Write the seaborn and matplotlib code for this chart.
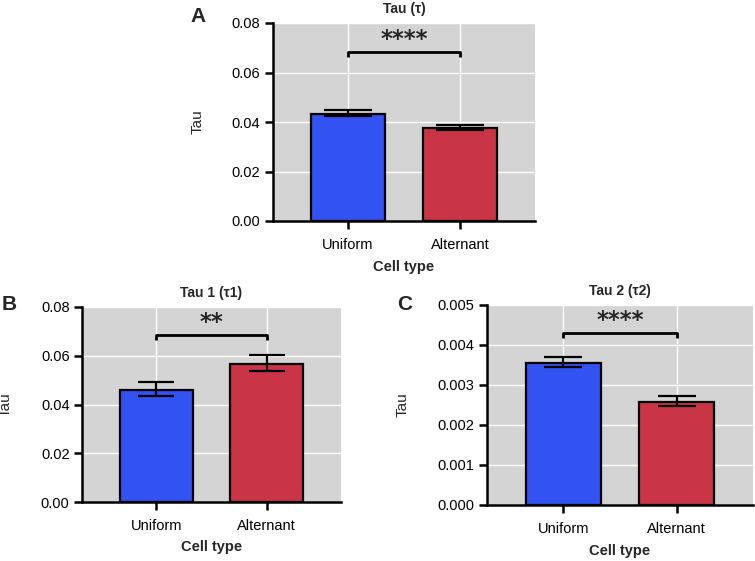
import seaborn as sns
import matplotlib
matplotlib.use("Agg")
import matplotlib.pyplot as plt
import pandas as pd

sns.set_theme(style="darkgrid")
plt.rcParams['font.family'] = ['Liberation Sans', 'DejaVu Sans']

# Data
cell_types = ['Uniform', 'Alternant']

tau_mean = [0.0433, 0.0375]
tau_low = [0.0424, 0.0369]
tau_high = [0.0447, 0.0386]

tau1_mean = [0.0460, 0.0566]
tau1_low = [0.0433, 0.0537]
tau1_high = [0.0493, 0.0604]

tau2_mean = [0.00355, 0.00258]
tau2_low = [0.00345, 0.00248]
tau2_high = [0.00370, 0.00272]

colors = ['#3352f2', '#c93546']

W, H = 755, 561
fig = plt.figure(figsize=(W / 100, H / 100), dpi=100)


def px_axes(x0, x1, y0, y1):
    return fig.add_axes([x0 / W, 1 - y1 / H, (x1 - x0) / W, (y1 - y0) / H])


def panel(ax, means, low, high, ymax, step, fmt, title, stars, bar_y, capsize,
          ylab_x, letter, letter_xy):
    df = pd.DataFrame({'Cell type': cell_types, 'Tau': means})
    sns.barplot(data=df, x='Cell type', y='Tau', hue='Cell type', palette=colors,
                saturation=1, width=0.66, edgecolor='black', linewidth=1.6,
                legend=False, ax=ax)
    err = [[m - l for m, l in zip(means, low)], [h - m for m, h in zip(means, high)]]
    ax.errorbar([0, 1], means, yerr=err, fmt='none', ecolor='black',
                elinewidth=1.6, capsize=capsize, capthick=1.6, zorder=5)
    ax.set_facecolor('#d4d4d4')
    ax.grid(True, color='white', linewidth=1)
    ax.set_axisbelow(True)
    ax.set_xlim(-0.67, 1.67)
    ax.set_ylim(0, ymax)
    ticks = [i * step for i in range(int(round(ymax / step)) + 1)]
    ax.set_yticks(ticks)
    ax.set_yticklabels([fmt.format(t) for t in ticks])
    for s in ['top', 'right']:
        ax.spines[s].set_visible(False)
    for s in ['left', 'bottom']:
        ax.spines[s].set_color('black')
        ax.spines[s].set_linewidth(1.8)
    ax.tick_params(axis='both', direction='out', length=6, width=1.8, color='black',
                   labelsize=10.5, labelcolor='black', bottom=True, left=True, pad=3)
    ax.tick_params(axis='x', pad=6)
    ax.set_title(title, fontsize=10, fontweight='bold', pad=7)
    ax.set_xlabel('Cell type', fontsize=10.5, fontweight='bold')
    ax.xaxis.set_label_coords(0.5, -0.232)
    ax.xaxis.label.set_verticalalignment('center')
    ax.set_ylabel('Tau', fontsize=11)
    ax.yaxis.set_label_coords(ylab_x, 0.5)
    ax.yaxis.label.set_verticalalignment('center')
    # significance bracket
    d = ymax * 0.025
    ax.plot([0, 0, 1, 1], [bar_y - d, bar_y, bar_y, bar_y - d], color='black',
            lw=2, solid_capstyle='butt', clip_on=False)
    ax.annotate(stars, (0.5, bar_y), xytext=(0, 9), textcoords='offset points',
                ha='center', va='center', fontsize=16.5, fontweight='bold',
                family='DejaVu Sans')
    fig.text(letter_xy[0] / W, 1 - letter_xy[1] / H, letter, fontsize=15,
             fontweight='bold', ha='center', va='center')


axA = px_axes(273, 535, 23, 221)
panel(axA, tau_mean, tau_low, tau_high, 0.08, 0.02, '{:.2f}', 'Tau (\u03c4)', '****',
      0.0683, 17, -0.287, 'A', (198, 16))

axB = px_axes(82, 341, 307, 502)
panel(axB, tau1_mean, tau1_low, tau1_high, 0.08, 0.02, '{:.2f}', 'Tau 1 (\u03c41)', '**',
      0.0685, 13, -0.293, 'B', (9, 305))

axC = px_axes(487, 753, 305, 505)
panel(axC, tau2_mean, tau2_low, tau2_high, 0.005, 0.001, '{:.3f}', 'Tau 2 (\u03c42)', '****',
      0.0043, 14, -0.316, 'C', (405, 305))

fig.savefig('out.png', dpi=100)
